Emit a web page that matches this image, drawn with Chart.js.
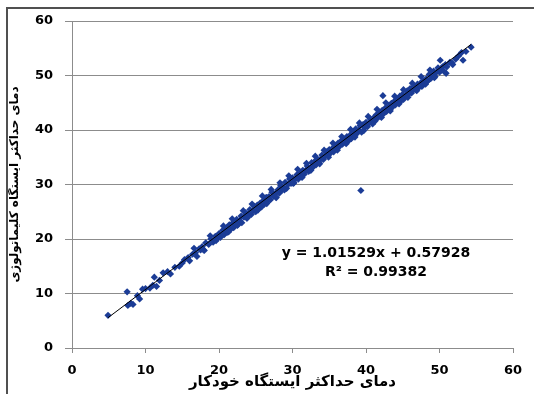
<!DOCTYPE html>
<html>
<head>
<meta charset="utf-8">
<script src="https://cdn.jsdelivr.net/npm/chart.js@4"></script>
<style>
html,body{margin:0;padding:0;background:#fff;}
canvas{display:block;}
</style>
</head>
<body>
<canvas id="c" width="534" height="394"></canvas>
<script>
// Automatic station max temperature (x) vs climatological station max temperature (y)
const xValues = [
 4.9,7.5,7.6,8.0,8.3,8.9,9.2,9.6,10.0,10.6,11.0,11.2,11.5,11.9,12.4,13.0,13.4,14.0,14.6,15.0,
 15.3,15.8,16.0,16.4,16.8,17.0,17.3,17.7,18.0,18.2,18.6,18.9,19.2,19.5,19.8,20.0,20.2,20.5,20.7,21.0,
 21.1,21.4,21.6,21.9,22.0,22.2,22.4,22.6,22.8,23.0,23.1,23.4,23.6,23.8,24.0,24.2,24.4,24.6,24.8,25.0,
 25.2,25.4,25.6,25.8,26.0,26.2,26.4,26.6,26.8,27.0,27.2,27.4,27.6,27.8,28.0,28.2,28.4,28.6,28.8,29.0,
 29.2,29.4,29.6,29.8,30.0,30.2,30.4,30.6,30.8,31.0,31.2,31.4,31.6,31.8,32.0,32.2,32.4,32.6,32.8,33.0,
 33.2,33.4,33.6,33.8,34.0,34.2,34.4,34.6,34.8,35.0,35.2,35.4,35.6,35.8,36.0,36.2,36.4,36.6,36.8,37.0,
 37.2,37.4,37.6,37.8,38.0,38.2,38.4,38.6,38.8,39.0,39.3,39.2,39.4,39.6,39.8,40.0,40.2,40.4,40.6,40.8,
 41.0,41.2,41.4,41.6,41.8,42.0,42.3,42.2,42.4,42.6,42.8,43.0,43.2,43.4,43.6,43.8,44.0,44.2,44.4,44.6,
 44.8,45.0,45.2,45.4,45.6,45.8,46.0,46.2,46.4,46.6,46.8,47.0,47.2,47.4,47.6,47.8,48.0,48.2,48.4,48.6,
 48.8,49.0,49.2,49.4,49.6,49.8,50.0,50.2,50.1,50.4,50.6,50.8,51.0,50.9,51.4,51.7,51.8,52.2,52.6,53.0,
 53.2,53.6,54.3,45.1,46.5,47.3,48.3,49.1,43.5,41.5,36.9,34.1,31.3,28.5,26.5,24.3,22.1,19.9,17.5,
 20.6,21.3,21.8,22.5,23.3,23.9,24.5,25.3,25.9,26.5,27.1,27.7,28.3,28.9,29.5,30.1,30.7,31.3,31.9,32.5,
 33.1,33.7,34.3,34.9,35.5,36.1,36.7,37.3,37.9,38.5,39.1,39.7,40.3,40.9,41.5,42.1,42.7,43.3,43.9,44.5,
 45.1,45.7,46.3,46.9,47.5,48.1,48.7,49.3,16.6,17.9,18.8,19.6
];
const yValues = [
 6.0,10.3,7.8,8.2,8.0,9.6,9.0,10.8,10.9,11.0,11.5,13.0,11.3,12.4,13.8,14.0,13.6,14.8,15.0,15.6,
 16.2,16.6,16.0,17.2,17.5,16.8,18.2,18.6,17.9,19.3,19.0,20.0,19.4,20.5,20.1,21.0,20.3,21.6,20.8,22.0,
 21.2,22.6,21.8,23.0,22.1,22.6,23.6,22.7,23.4,24.2,23.0,24.0,24.8,23.8,24.6,25.4,24.5,25.2,26.0,25.0,
 26.2,25.6,26.6,25.9,27.0,26.4,27.6,26.9,27.8,27.2,28.6,27.9,28.3,27.6,29.0,28.4,29.8,29.0,29.4,30.4,
 29.3,30.0,31.0,30.2,31.2,30.3,31.0,31.8,31.0,32.0,31.6,32.6,31.9,32.6,33.4,32.4,33.0,34.0,33.2,34.2,
 33.6,34.6,34.0,34.6,35.4,34.6,35.2,36.0,35.3,36.4,35.8,36.6,36.0,37.2,36.8,37.6,37.0,38.0,37.4,38.2,
 37.8,38.8,38.0,39.0,38.4,39.6,39.0,40.2,39.4,40.0,28.9,40.8,39.6,41.0,40.4,41.4,40.6,41.2,42.0,41.4,
 42.2,41.6,42.8,42.2,43.0,42.6,46.3,43.6,43.0,44.0,43.4,44.2,43.8,44.8,44.2,45.2,44.6,45.6,45.0,46.2,
 45.4,46.6,46.0,46.4,47.2,46.6,47.6,46.8,47.4,48.0,47.4,48.4,47.8,48.6,48.0,49.0,48.6,49.4,49.0,50.2,
 49.4,50.0,50.8,49.8,50.6,51.4,50.6,51.0,52.8,51.6,50.8,52.0,51.6,50.4,52.4,52.3,52.0,53.0,53.6,54.2,
 52.8,54.4,55.2,45.6,47.9,48.2,48.9,50.3,44.9,42.4,38.0,35.0,32.1,29.6,27.6,25.0,22.9,20.7,18.0,
 22.4,21.3,23.7,22.5,25.2,24.0,26.4,25.3,27.9,26.5,29.1,27.7,30.3,29.0,31.6,30.2,32.8,31.3,33.9,32.6,
 35.2,33.8,36.3,35.0,37.6,36.3,38.8,37.5,40.1,38.7,41.3,39.9,42.5,41.1,43.8,42.3,45.0,43.5,46.2,44.8,
 47.4,46.0,48.6,47.2,49.8,48.4,51.0,49.6,18.3,18.0,20.6,19.7
];
const xTicks = [0,10,20,30,40,50,60];
const yTicks = [0,10,20,30,40,50,60];
const slope = 1.01529, intercept = 0.57928, r2 = 0.99382;
const xTitle = 'دمای حداکثر ایستگاه خودکار';
const yTitle = 'دمای حداکثر ایستگاه کلیماتولوژی';
const eqLine1 = 'y = ' + slope.toFixed(5) + 'x + ' + intercept.toFixed(5);
const eqLine2 = 'R² = ' + r2.toFixed(5);

const points = xValues.map((x, i) => ({x: x, y: yValues[i]}));
const xMinData = Math.min(...xValues), xMaxData = Math.max(...xValues);
const trend = [
  {x: xMinData, y: slope * xMinData + intercept},
  {x: xMaxData, y: slope * xMaxData + intercept}
];

const framePlugin = {
  id: 'frame',
  afterDraw(chart) {
    const ctx = chart.ctx;
    ctx.save();
    ctx.strokeStyle = '#505050';
    ctx.lineWidth = 2;
    ctx.beginPath();
    ctx.moveTo(7, 394);
    ctx.lineTo(7, 8);
    ctx.lineTo(534, 8);
    ctx.stroke();
    ctx.fillStyle = '#000';
    ctx.font = 'bold 14px "DejaVu Sans", sans-serif';
    ctx.textAlign = 'center';
    ctx.textBaseline = 'middle';
    ctx.fillText(eqLine1, 376, 253);
    ctx.fillText(eqLine2, 376, 272);
    ctx.restore();
  }
};

new Chart(document.getElementById('c'), {
  type: 'scatter',
  data: {
    datasets: [
      {
        data: trend,
        type: 'line',
        borderColor: '#000',
        borderWidth: 1,
        pointRadius: 0,
        fill: false,
        order: 0
      },
      {
        data: points,
        pointStyle: 'rectRot',
        pointRadius: 3.6,
        pointHoverRadius: 3.6,
        backgroundColor: '#1b3c96',
        borderColor: '#1b3c96',
        borderWidth: 0,
        order: 1
      }
    ]
  },
  options: {
    responsive: false,
    animation: false,
    events: [],
    layout: {padding: {left: 8, top: 21, right: 21, bottom: 0}},
    plugins: {legend: {display: false}, tooltip: {enabled: false}},
    scales: {
      x: {
        type: 'linear',
        min: 0, max: 60,
        afterBuildTicks(s) { s.ticks = xTicks.map(v => ({value: v})); },
        afterFit(s) { s.height = 46; },
        grid: {display: true, drawOnChartArea: false, drawTicks: true, tickLength: 5, color: '#8c8c8c'},
        border: {display: true, color: '#8c8c8c', width: 1},
        ticks: {
          autoSkip: false, maxRotation: 0, padding: 10,
          color: '#000',
          font: {family: '"DejaVu Sans", sans-serif', size: 13, weight: 'bold'}
        },
        title: {
          display: true, text: xTitle, color: '#000',
          padding: {top: 0, bottom: 3},
          font: {family: '"DejaVu Sans", sans-serif', size: 15, weight: 'bold'}
        }
      },
      y: {
        type: 'linear',
        min: 0, max: 60,
        afterBuildTicks(s) { s.ticks = yTicks.map(v => ({value: v})); },
        afterFit(s) { s.width = 64; },
        grid: {display: true, drawTicks: true, tickLength: 7, color: '#8c8c8c'},
        border: {display: true, color: '#8c8c8c', width: 1},
        ticks: {
          padding: 12,
          color: '#000',
          font: {family: '"DejaVu Sans", sans-serif', size: 13, weight: 'bold'}
        },
        title: {
          display: true, text: yTitle, color: '#000',
          padding: {top: 0, bottom: 0},
          font: {family: '"DejaVu Sans", sans-serif', size: 12, weight: 'bold'}
        }
      }
    }
  },
  plugins: [framePlugin]
});
</script>
</body>
</html>
